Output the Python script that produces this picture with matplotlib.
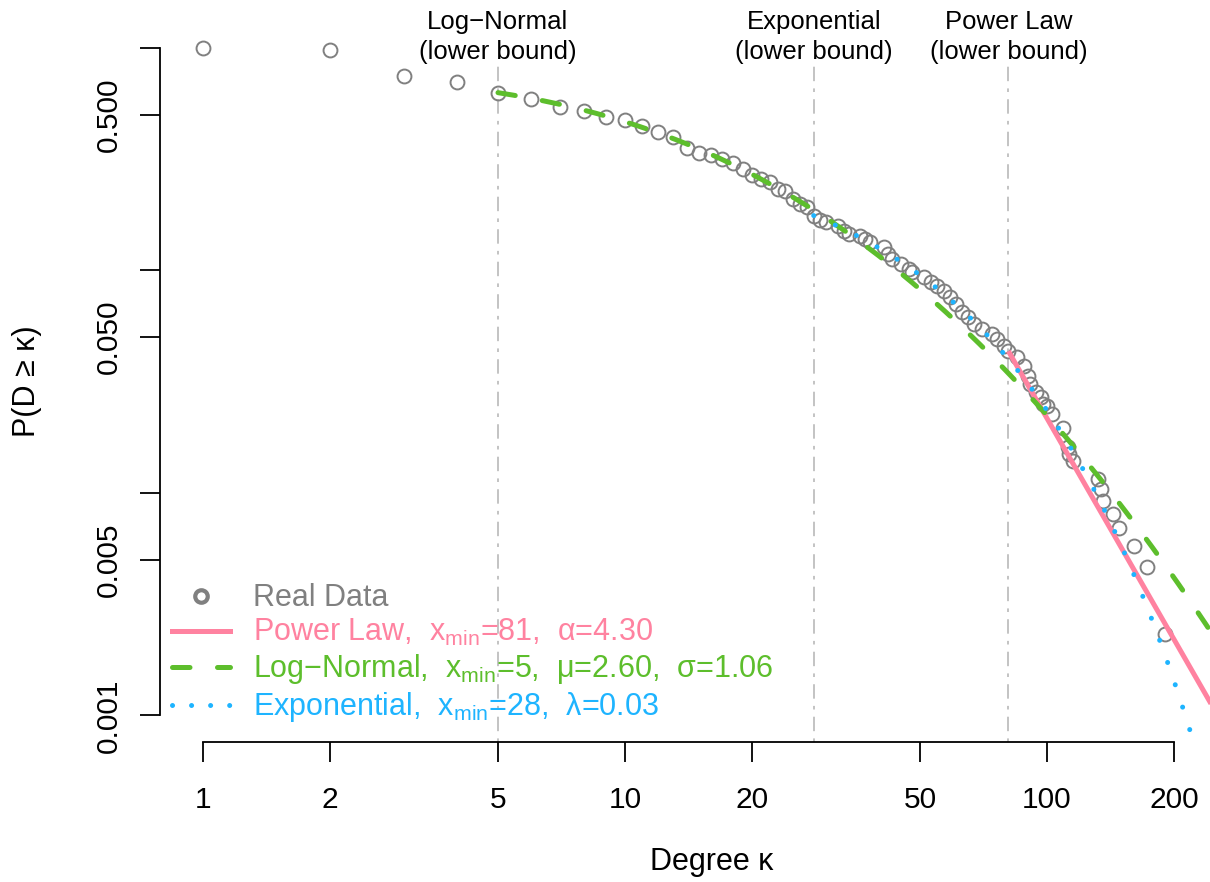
import math
import matplotlib
matplotlib.use("Agg")
import matplotlib.pyplot as plt
import matplotlib.transforms as mtransforms
from matplotlib.lines import Line2D
import numpy as np

plt.rcParams['font.family'] = ['Liberation Sans', 'DejaVu Sans']
plt.rcParams['mathtext.fontset'] = 'custom'
plt.rcParams['mathtext.rm'] = 'Liberation Sans'

degree = [1, 2, 3, 4, 5, 6, 7, 8, 9, 10, 11, 12, 13, 14, 15, 16, 17, 18, 19, 20,
          21, 22, 23, 24, 25, 26, 27, 28, 29, 30, 32, 33, 34, 36, 37, 38, 41, 42,
          43, 45, 47, 48, 51, 53, 55, 57, 59, 61, 63, 65, 67, 70, 74, 76, 79, 81,
          85, 88, 90, 91, 94, 97, 98, 100, 103, 109, 112, 113, 115, 132, 134, 136,
          143, 148, 161, 173, 190]
ccdf = [1.0, 0.98, 0.749, 0.704, 0.628, 0.590, 0.544, 0.522, 0.490, 0.471, 0.447,
        0.420, 0.395, 0.356, 0.338, 0.328, 0.315, 0.302, 0.284, 0.267, 0.256, 0.248,
        0.232, 0.226, 0.208, 0.198, 0.192, 0.176, 0.169, 0.164, 0.1575, 0.1496,
        0.145, 0.142, 0.1377, 0.1335, 0.1268, 0.118, 0.112, 0.1064, 0.101, 0.098,
        0.093, 0.0884, 0.0848, 0.0805, 0.0757, 0.0704, 0.0649, 0.0615, 0.0573,
        0.0544, 0.0516, 0.0491, 0.0456, 0.0433, 0.0407, 0.0371, 0.0335, 0.0308,
        0.0284, 0.0269, 0.0251, 0.0246, 0.0226, 0.0195, 0.0161, 0.0150, 0.0139,
        0.01155, 0.0104, 0.0092, 0.00805, 0.00697, 0.00578, 0.00466, 0.00233]

# fitted models (legend parameters)
pl_xmin, pl_alpha = 81, 4.30
ln_xmin, ln_mu, ln_sigma = 5, 2.60, 1.06
ex_xmin, ex_lam = 28, 0.028

bounds = [ln_xmin, ex_xmin, pl_xmin]
bound_names = ['Log\u2212Normal\n(lower bound)', 'Exponential\n(lower bound)',
               'Power Law\n(lower bound)']

c_data = '#808080'
c_pl = '#FF82A0'
c_ln = '#5DBE2C'
c_ex = '#1EB4FF'
fs_note = 18.5
fs_tick = 21.5
fs_lab = 22
fs_leg = 22

deg = np.array(degree, dtype=float)
cc = np.array(ccdf)
anchor = dict(zip(degree, ccdf))

fig = plt.figure(figsize=(12.1, 8.82), dpi=100)
ax = fig.add_axes([160 / 1210, 140 / 882, 1050 / 1210, 721 / 882])
ax.set_xscale('log')
ax.set_yscale('log')
ax.set_xlim(10 ** -0.102, 10 ** 2.3863)
ax.set_ylim(10 ** -3.12, 10 ** 0.12)

ax.vlines(bounds, 10 ** -3.12, 0.86, colors='#BEBEBE', lw=1.3,
          linestyles=(0, (2, 4, 8, 4)), zorder=1)
trans = mtransforms.blended_transform_factory(ax.transData, ax.transAxes)
for b, name in zip(bounds, bound_names):
    ax.text(b, 0.941, name, transform=trans, ha='center', va='bottom',
            fontsize=fs_note, linespacing=1.3)

ax.plot(deg, cc, 'o', mfc='none', mec=c_data, ms=10, mew=1.4, zorder=2)

# power law
k = np.geomspace(pl_xmin, 300, 200)
ax.plot(k, anchor[pl_xmin] * (k / pl_xmin) ** (1 - pl_alpha), color=c_pl, lw=3.6,
        solid_capstyle='butt', zorder=3)

# log-normal
def surv(x):
    return np.array([0.5 * math.erfc((math.log(v) - ln_mu) / (ln_sigma * math.sqrt(2))) for v in x])

k = np.geomspace(ln_xmin, 300, 400)
ax.plot(k, anchor[ln_xmin] * surv(k) / surv([ln_xmin])[0], color=c_ln, lw=3.6,
        linestyle=(0, (3.5, 5.5)), dash_capstyle='round', zorder=3)

# exponential
k = np.linspace(ex_xmin, 300, 600)
ax.plot(k, anchor[ex_xmin] * np.exp(-ex_lam * (k - ex_xmin)), color=c_ex, lw=3.6,
        linestyle=(0, (0.01, 4.7)), dash_capstyle='round', zorder=3)

for s in ['top', 'right']:
    ax.spines[s].set_visible(False)
ax.spines['bottom'].set_bounds(1, 200)
ax.spines['left'].set_bounds(0.001, 1)
for s in ['bottom', 'left']:
    ax.spines[s].set_linewidth(1.3)

xt = [1, 2, 5, 10, 20, 50, 100, 200]
ax.set_xticks(xt)
ax.set_xticklabels([str(v) for v in xt])
ax.xaxis.set_minor_locator(matplotlib.ticker.NullLocator())
yt = [0.001, 0.005, 0.01, 0.05, 0.1, 0.5, 1]
ylab = ['0.001', '0.005', '', '0.050', '', '0.500', '']
ax.set_yticks(yt)
ax.set_yticklabels(ylab, rotation=90, va='center')
ax.yaxis.set_minor_locator(matplotlib.ticker.NullLocator())
ax.tick_params(axis='both', direction='out', length=14.4, width=1.3, labelsize=fs_tick)
ax.tick_params(axis='x', pad=17.5)
ax.tick_params(axis='y', pad=12)

ax.set_xlabel('Degree \u03ba', fontsize=fs_lab)
ax.xaxis.set_label_coords(0.5257, -0.145)
ax.set_ylabel('P(D \u2265 \u03ba)', fontsize=fs_lab)
ax.yaxis.set_label_coords(-0.112, 0.5)

handles = [
    Line2D([], [], ls='none', marker='o', mfc='none', mec=c_data, ms=9, mew=3),
    Line2D([], [], color=c_pl, lw=3.6),
    Line2D([], [], color=c_ln, lw=3.6, linestyle=(0, (3.5, 5.5)), dash_capstyle='round'),
    Line2D([], [], color=c_ex, lw=3.6, linestyle=(0, (0.01, 3.8)), dash_capstyle='round'),
]
labels = [
    'Real Data',
    r'Power Law,  $\mathregular{x_{min}}$=%d,  α=%.2f' % (pl_xmin, pl_alpha),
    r'Log$\mathregular{-}$Normal,  $\mathregular{x_{min}}$=%d,  μ=%.2f,  σ=%.2f' % (ln_xmin, ln_mu, ln_sigma),
    r'Exponential,  $\mathregular{x_{min}}$=%d,  λ=%.2f' % (ex_xmin, ex_lam),
]
leg = ax.legend(handles, labels, loc='upper left', bbox_to_anchor=(0.011, 0.220),
                frameon=False, fontsize=fs_leg, handlelength=1.9, handletextpad=0.75,
                labelspacing=0.13, borderpad=0, borderaxespad=0)
for t, c in zip(leg.get_texts(), [c_data, c_pl, c_ln, c_ex]):
    t.set_color(c)

fig.savefig('out.png', dpi=100)
